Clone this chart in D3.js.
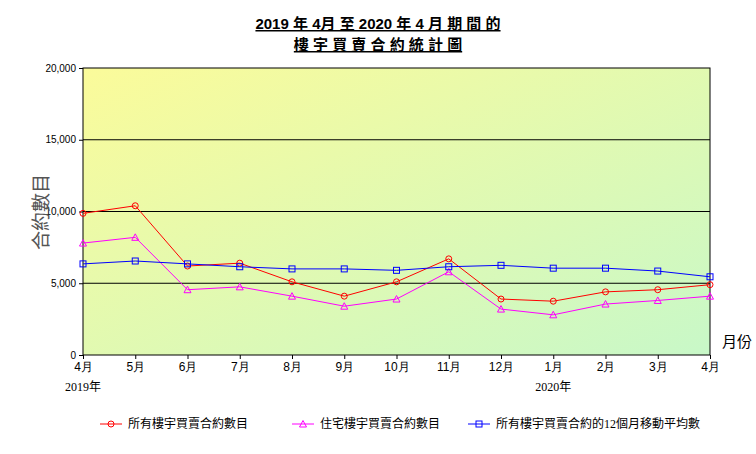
<!DOCTYPE html>
<html><head><meta charset="utf-8">
<script src="https://cdn.jsdelivr.net/npm/d3@7"></script>
<style>body{margin:0;background:#fff}svg{font-family:"Liberation Serif","Noto Sans CJK TC",serif}</style>
</head><body><svg id="c" width="756" height="454"></svg>
<script>
const months=["4月","5月","6月","7月","8月","9月","10月","11月","12月","1月","2月","3月","4月"];
const yearLabels=[[0,"2019年"],[9,"2020年"]];
const allFlats=[9870,10400,6200,6400,5100,4100,5100,6700,3900,3750,4400,4550,4900];
const residential=[7800,8200,4550,4750,4100,3400,3900,5800,3200,2800,3550,3800,4100];
const movingAvg=[6350,6550,6350,6150,6000,6000,5900,6150,6250,6050,6050,5850,5450];
const yTicks=[0,5000,10000,15000,20000];

const svg=d3.select("#c");
const L=83,R=710,T=68,B=355;
const x=d3.scaleLinear().domain([0,12]).range([L,R]);
const y=d3.scaleLinear().domain([0,20000]).range([B,T]);
const defs=svg.append("defs");
const g=defs.append("linearGradient").attr("id","bg").attr("x1","0").attr("y1","0").attr("x2","1").attr("y2","1");
g.append("stop").attr("offset","0").attr("stop-color","#fbfb9a");
g.append("stop").attr("offset","1").attr("stop-color","#c8f8c8");
svg.append("rect").attr("x",L).attr("y",T).attr("width",R-L).attr("height",B-T).attr("fill","url(#bg)");
yTicks.slice(1,-1).forEach(t=>svg.append("line").attr("x1",L).attr("x2",R).attr("y1",y(t)).attr("y2",y(t)).attr("stroke","#000"));
svg.append("rect").attr("x",L).attr("y",T).attr("width",R-L).attr("height",B-T).attr("fill","none").attr("stroke","#000");
const ya=svg.append("g").attr("transform",`translate(${L},0)`).call(d3.axisLeft(y).tickValues(yTicks).tickFormat(d3.format(",")).tickSize(4));
ya.select(".domain").remove();ya.selectAll("text").attr("font-size",10).attr("font-family","Liberation Sans,sans-serif");
const xa=svg.append("g").attr("transform",`translate(0,${B})`).call(d3.axisBottom(x).ticks(13).tickFormat(i=>months[i]).tickSize(4));
xa.select(".domain").remove();xa.selectAll("text").attr("font-size",12);
yearLabels.forEach(([i,t])=>svg.append("text").attr("x",x(i)).attr("y",391).attr("text-anchor","middle").attr("font-size",12).text(t));
svg.append("text").attr("x",722).attr("y",347).attr("font-size",15).text("月份");
svg.append("text").attr("transform","translate(48,212) rotate(-90)").attr("text-anchor","middle").attr("font-size",19).attr("fill","#555").text("合約數目");
svg.append("text").attr("x",378).attr("y",29).attr("text-anchor","middle").attr("font-size",15).attr("font-weight","bold").attr("font-family","Liberation Sans,Noto Sans CJK TC").attr("text-decoration","underline").text("2019 年 4月 至 2020 年 4 月 期 間 的");
svg.append("text").attr("x",378).attr("y",50).attr("text-anchor","middle").attr("font-size",15).attr("font-weight","bold").attr("font-family","Liberation Sans,Noto Sans CJK TC").attr("text-decoration","underline").text("樓 宇 買 賣 合 約 統 計 圖");
const line=d3.line().x((d,i)=>x(i)).y(d=>y(d));
function marker(sel,type,c){
  if(type==="o")sel.append("circle").attr("r",3).attr("fill","none").attr("stroke",c);
  else if(type==="t")sel.append("path").attr("d","M0,-3.5L3.5,3L-3.5,3Z").attr("fill","none").attr("stroke",c);
  else sel.append("rect").attr("x",-3).attr("y",-3).attr("width",6).attr("height",6).attr("fill","none").attr("stroke",c);
}
const series=[[allFlats,"#ff0000","o","所有樓宇買賣合約數目",100],[residential,"#ff00ff","t","住宅樓宇買賣合約數目",292],[movingAvg,"#0000ff","s","所有樓宇買賣合約的12個月移動平均數",468]];
series.forEach(([d,c,m,name,lx])=>{
  svg.append("path").attr("d",line(d)).attr("fill","none").attr("stroke",c);
  d.forEach((v,i)=>marker(svg.append("g").attr("transform",`translate(${x(i)},${y(v)})`),m,c));
  svg.append("line").attr("x1",lx).attr("x2",lx+22).attr("y1",424).attr("y2",424).attr("stroke",c);
  marker(svg.append("g").attr("transform",`translate(${lx+11},424)`),m,c);
  svg.append("text").attr("x",lx+28).attr("y",428).attr("font-size",12).text(name);
});
</script></body></html>
